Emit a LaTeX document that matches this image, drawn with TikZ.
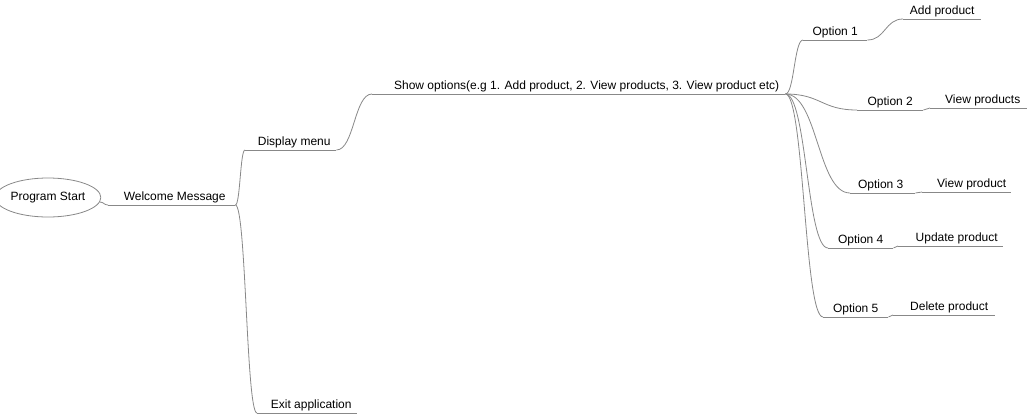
\documentclass[tikz,border=0pt]{standalone}
\usepackage{fontspec}
\setmainfont{Liberation Sans}
\usetikzlibrary{shapes.geometric,calc}
\definecolor{linegray}{RGB}{136,136,136}
\tikzset{
  link/.style={draw=linegray, line width=0.8pt},
  topic/.style 2 args={inner xsep=0pt, inner ysep=1pt, text height=9pt, text depth=3pt,
    minimum width=#1, anchor=south west, font=\fontsize{12}{14}\selectfont,
    execute at begin node={\hspace*{#2}}},
  rootnode/.style={ellipse, draw=linegray, line width=0.8pt, inner sep=0pt,
    minimum width=95pt, minimum height=39pt, font=\fontsize{12}{14}\selectfont}
}
\newcommand\mmcurve[2]{%
  \draw[link] let \p1=(#1), \p2=(#2) in
    (\p1) .. controls ($(\p1)+({0.5*(\x2-\x1)},0pt)$) and ($(\p2)+({-0.5*(\x2-\x1)},0pt)$) .. (\p2);}
\begin{document}
\begin{tikzpicture}[x=1pt,y=-1pt]
\useasboundingbox (0,0) rectangle (1027,415);
\node[rootnode] (start) at (48,197.5) {Program Start};
\node[topic={127pt}{6pt}] (welcome) at (108,205) {Welcome Message};
\node[topic={91pt}{7pt}] (display) at (245,150) {Display menu};
\node[topic={413pt}{16pt}] (show) at (372,94) {Show options(e.g 1. Add product, 2. View products, 3. View product etc)};
\node[topic={64pt}{0pt}] (opt1) at (803,40) {Option 1};
\node[topic={78pt}{0pt}] (add) at (903,19) {Add product};
\node[topic={66pt}{0pt}] (opt2) at (857,110) {Option 2};
\node[topic={97pt}{8pt}] (viewps) at (930,108) {View products};
\node[topic={65pt}{-4pt}] (opt3) at (850,193) {Option 3};
\node[topic={89pt}{10pt}] (viewp) at (922,192) {View product};
\node[topic={65pt}{0pt}] (opt4) at (828,248) {Option 4};
\node[topic={105pt}{12pt}] (update) at (898,246) {Update product};
\node[topic={65pt}{0pt}] (opt5) at (823,317) {Option 5};
\node[topic={102pt}{10pt}] (delete) at (893,315) {Delete product};
\node[topic={100pt}{8pt}] (exit) at (257,413) {Exit application};
\foreach \n in {welcome,display,show,opt1,add,opt2,viewps,opt3,viewp,opt4,update,opt5,delete,exit}
  \draw[link] (\n.south west) -- (\n.south east);
\mmcurve{start.-5}{welcome.south west}
\mmcurve{welcome.south east}{display.south west}
\mmcurve{welcome.south east}{exit.south west}
\mmcurve{display.south east}{show.south west}
\mmcurve{show.south east}{opt1.south west}
\mmcurve{show.south east}{opt2.south west}
\mmcurve{show.south east}{opt3.south west}
\mmcurve{show.south east}{opt4.south west}
\mmcurve{show.south east}{opt5.south west}
\mmcurve{opt1.south east}{add.south west}
\mmcurve{opt2.south east}{viewps.south west}
\mmcurve{opt3.south east}{viewp.south west}
\mmcurve{opt4.south east}{update.south west}
\mmcurve{opt5.south east}{delete.south west}
\end{tikzpicture}
\end{document}
